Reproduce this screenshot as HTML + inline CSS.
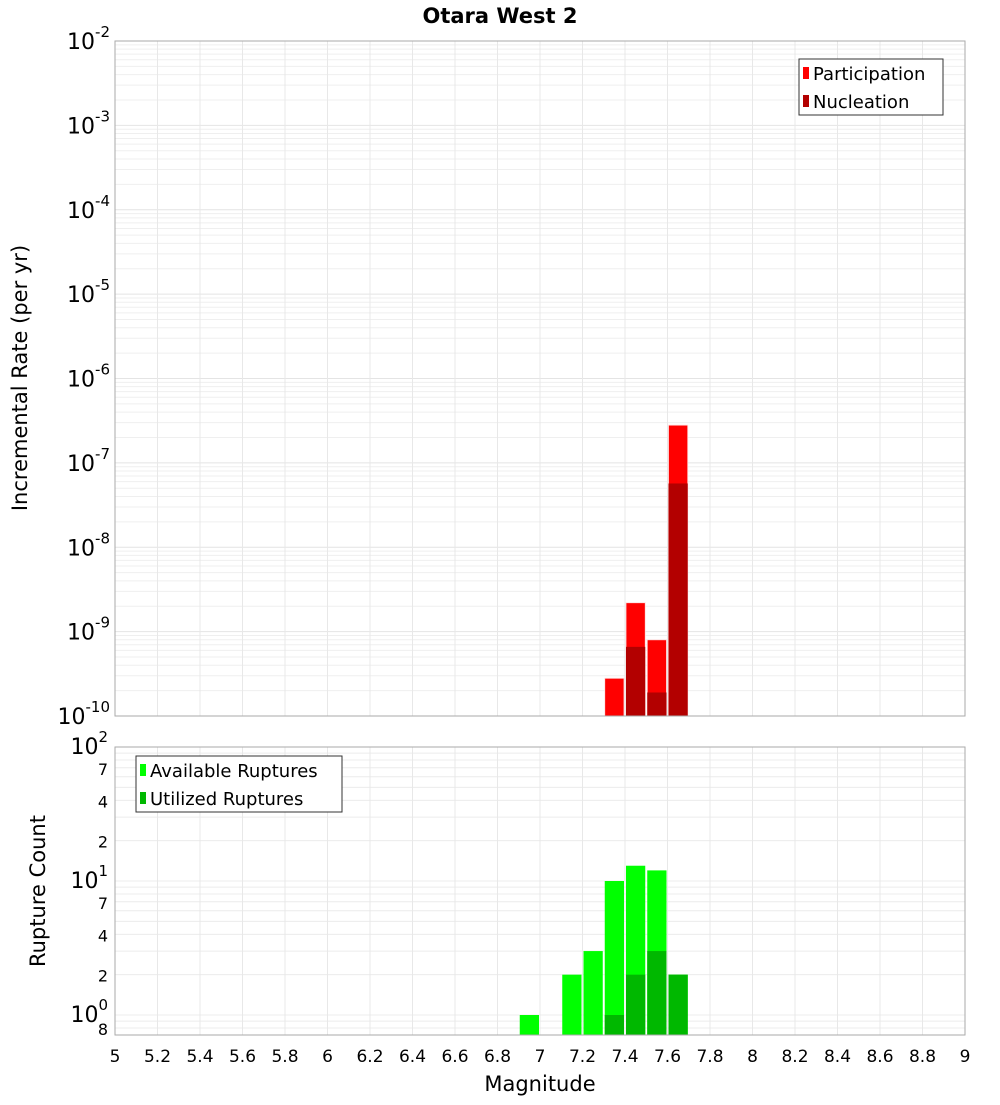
<!DOCTYPE html>
<html><head><meta charset="utf-8"><style>
body{margin:0;background:#fff;font-family:"Liberation Sans","DejaVu Sans",sans-serif}
svg text{font-family:"DejaVu Sans","Liberation Sans",sans-serif}
</style></head><body>
<svg id="c" width="1000" height="1100">
<text x="500" y="23" text-anchor="middle" font-size="21" font-weight="bold">Otara West 2</text>
<g id="g"></g>
</svg>
<script>
const mags=[6.95,7.15,7.25,7.35,7.45,7.55,7.65];
const available=[1,2,3,10,13,12,2];
const utilized=[0,0,0,1,2,3,2];
const rateMags=[7.35,7.45,7.55,7.65];
const participation=[2.8e-10,2.2e-9,8e-10,2.8e-7];
const nucleation=[0,6.6e-10,1.9e-10,5.7e-8];
const xTicks=[5,5.2,5.4,5.6,5.8,6,6.2,6.4,6.6,6.8,7,7.2,7.4,7.6,7.8,8,8.2,8.4,8.6,8.8,9];
const topExp=[-2,-3,-4,-5,-6,-7,-8,-9,-10];

const NS="http://www.w3.org/2000/svg",G=document.getElementById('g');
function el(t,a,txt){const e=document.createElementNS(NS,t);for(const k in a)e.setAttribute(k,a[k]);if(txt!==undefined)e.textContent=txt;G.appendChild(e);return e;}
const L=115,R=965;
const X=m=>L+(m-5)/4*(R-L);
const T0=41,T1=716;const Yt=v=>T0+(-2-Math.log10(v))*(T1-T0)/8;
const B0=747,B1=1035;const dec=134;const Yb=v=>B0+(2-Math.log10(v))*dec;
const bMin=Math.pow(10,2-(B1-B0)/dec);
// grids
for(let e=-10;e<-2;e++)for(let k=1;k<10;k++){const y=Yt(k*Math.pow(10,e));const g=el('line',{x1:L,x2:R,y1:y,y2:y,stroke:k==1?'#e4e4e4':'#efefef','stroke-width':1});}
for(let e=-1;e<2;e++)for(let k=1;k<10;k++){const v=k*Math.pow(10,e);if(v<bMin)continue;const y=Yb(v);const g=el('line',{x1:L,x2:R,y1:y,y2:y,stroke:'#ececec','stroke-width':1});}
xTicks.forEach(t=>{const x=X(t);[[T0,T1],[B0,B1]].forEach(r=>{const g=el('line',{x1:x,x2:x,y1:r[0],y2:r[1],stroke:'#e8e8e8','stroke-width':1});});});
// bars
const bw=0.1;
rateMags.forEach((m,i)=>{const x=X(m-bw/2)+1,w=X(m+bw/2)-X(m-bw/2)-2;
 const p=participation[i];if(p>0){const y=Yt(p);const r=el('rect',{x,y,width:w,height:T1-y,fill:'#ff0000',stroke:'#ffdede','stroke-width':0.8});}
 const n=nucleation[i];if(n>0){const y=Yt(n);const r=el('rect',{x,y,width:w,height:T1-y,fill:'#b30000'});}});
mags.forEach((m,i)=>{const x=X(m-bw/2)+1,w=X(m+bw/2)-X(m-bw/2)-2;
 const a=available[i];if(a>0){const y=Yb(a);const r=el('rect',{x,y,width:w,height:B1-y,fill:'#00ff00'});}
 const u=utilized[i];if(u>0){const y=Yb(u);const r=el('rect',{x,y,width:w,height:B1-y,fill:'#00b800'});}});
// frames
[[T0,T1],[B0,B1]].forEach(r=>{const f=el('rect',{x:L,y:r[0],width:R-L,height:r[1]-r[0],fill:'none',stroke:'#aaa','stroke-width':1});});
// top y labels
topExp.forEach(e=>{const y=Yt(Math.pow(10,e));const t=el('text',{x:L-5,y:y+8,'text-anchor':'end','font-size':22});t.innerHTML='10<tspan dy="-12" font-size="15">'+e+'</tspan>';});
// bottom y labels
[[100,'10','2'],[70,'7'],[40,'4'],[20,'2'],[10,'10','1'],[7,'7'],[4,'4'],[2,'2'],[1,'10','0'],[0.8,'8']].forEach(d=>{const y=Yb(d[0]);const t=el('text',{x:L-7,y:y+7,'text-anchor':'end','font-size':d[2]?22:16});if(d[2])t.innerHTML=d[1]+'<tspan dy="-12" font-size="15">'+d[2]+'</tspan>';else t.textContent=d[1];});
// x labels
xTicks.forEach(v=>{const t=el('text',{x:X(v),y:1062,'text-anchor':'middle','font-size':17},String(v));});
let t=el('text',{x:540,y:1091,'text-anchor':'middle','font-size':21},'Magnitude');
t=el('text',{x:27,y:378,'text-anchor':'middle','font-size':21,transform:'rotate(-90 27 378)'},'Incremental Rate (per yr)');
t=el('text',{x:45,y:891,'text-anchor':'middle','font-size':21,transform:'rotate(-90 45 891)'},'Rupture Count');
// legends
function legend(x,y,w,items,name){const b=el('rect',{x,y,width:w,height:56,fill:'#fff',stroke:'#333','stroke-width':1});
 items.forEach((it,i)=>{const yy=y+14+i*28;const s=el('rect',{x:x+4,y:yy-6,width:6,height:12,fill:it[1]});
 const tt=el('text',{x:x+14,y:yy+7,'font-size':18},it[0]);});}
legend(799,59,144,[['Participation','#ff0000'],['Nucleation','#b30000']],'legend-rate');
legend(136,756,206,[['Available Ruptures','#00ff00'],['Utilized Ruptures','#00b800']],'legend-count');
</script>
</body></html>
